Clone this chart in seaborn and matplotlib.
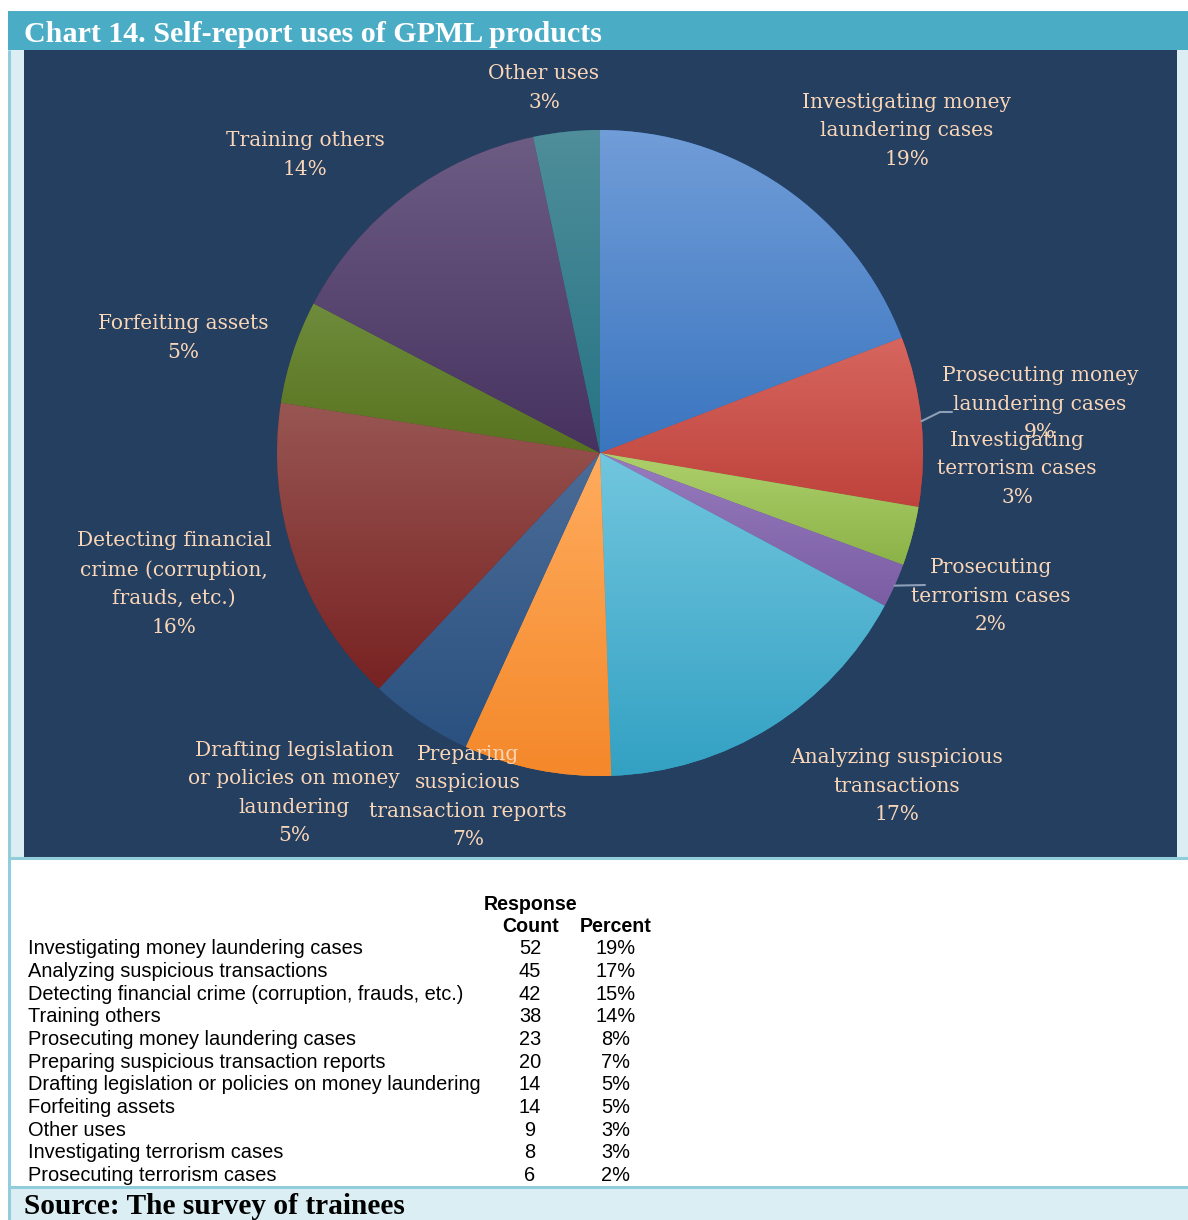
import numpy as np
import matplotlib
matplotlib.use("Agg")
import matplotlib.pyplot as plt
import seaborn as sns
from matplotlib.colors import to_rgb
from matplotlib.patches import Rectangle

# ---------------- data ----------------
pie_categories = [
    "Investigating money laundering cases",
    "Prosecuting money laundering cases",
    "Investigating terrorism cases",
    "Prosecuting terrorism cases",
    "Analyzing suspicious transactions",
    "Preparing suspicious transaction reports",
    "Drafting legislation or policies on money laundering",
    "Detecting financial crime (corruption, frauds, etc.)",
    "Forfeiting assets",
    "Training others",
    "Other uses",
]
pie_counts = [52, 23, 8, 6, 45, 20, 14, 42, 14, 38, 9]
pie_label_text = [
    "Investigating money\nlaundering cases",
    "Prosecuting money\nlaundering cases",
    "Investigating\nterrorism cases",
    "Prosecuting\nterrorism cases",
    "Analyzing suspicious\ntransactions",
    "Preparing\nsuspicious\ntransaction reports",
    "Drafting legislation\nor policies on money\nlaundering",
    "Detecting financial\ncrime (corruption,\nfrauds, etc.)",
    "Forfeiting assets",
    "Training others",
    "Other uses",
]
pie_label_pct = [19, 9, 3, 2, 17, 7, 5, 16, 5, 14, 3]

table_labels = [
    "Investigating money laundering cases",
    "Analyzing suspicious transactions",
    "Detecting financial crime (corruption, frauds, etc.)",
    "Training others",
    "Prosecuting money laundering cases",
    "Preparing suspicious transaction reports",
    "Drafting legislation or policies on money laundering",
    "Forfeiting assets",
    "Other uses",
    "Investigating terrorism cases",
    "Prosecuting terrorism cases",
]
table_counts = [52, 45, 42, 38, 23, 20, 14, 14, 9, 8, 6]
table_pcts = ["19%", "17%", "15%", "14%", "8%", "7%", "5%", "5%", "3%", "3%", "2%"]

title = "Chart 14. Self-report uses of GPML products"
source = "Source: The survey of trainees"

# ---------------- styles ----------------
grad_top = ["#719DD8", "#D6665F", "#AED06C", "#977BBE", "#72C6DE", "#FFAC5E",
            "#4C6C97", "#985652", "#6E8C3C", "#6C5C84", "#4F8E9A"]
grad_bot = ["#3A75BF", "#BE433C", "#8BB247", "#7A5DA3", "#33A1C3", "#F4882A",
            "#2A5180", "#782222", "#58731F", "#47325F", "#267385"]

label_pos = [(907, 131), (1040, 404), (1017, 469), (991, 596), (897, 786),
             (468, 797), (294, 793), (174, 584), (183, 338), (305, 155), (544, 88)]
leaders = {1: [(940, 412), (952, 412)], 3: [(925, 585)]}

W, H = 1188, 1220
CX, CY, R = 600, 453, 323

sns.set_theme(style="white")
plt.rcParams["font.family"] = ["DejaVu Sans"]

fig = plt.figure(figsize=(W / 100, H / 100), dpi=100)
fig.patch.set_facecolor("white")

# background axes in pixel coordinates
bg = fig.add_axes([0, 0, 1, 1], zorder=0)
bg.set_xlim(0, W)
bg.set_ylim(H, 0)
bg.axis("off")

light = "#DAEEF3"
border = "#92CDDC"
navy = "#243F60"
teal = "#4BACC6"

bg.add_patch(Rectangle((8, 50), W - 8, 807, facecolor=light, edgecolor="none"))
bg.add_patch(Rectangle((24, 50), 1153, 807, facecolor=navy, edgecolor="none"))
bg.add_patch(Rectangle((8, 11), W - 8, 39, facecolor=teal, edgecolor="none"))
bg.add_patch(Rectangle((8, 1187), W - 8, 33, facecolor=light, edgecolor="none"))
bg.plot([10, W], [857.5, 857.5], color=border, lw=2.2, solid_capstyle="butt")
bg.plot([10, W], [1186.5, 1186.5], color=border, lw=2.2, solid_capstyle="butt")
bg.plot([9, 9], [50, H], color=border, lw=2.2, solid_capstyle="butt")

# pie axes
pie_ax = fig.add_axes([(CX - R) / W, (H - CY - R) / H, 2 * R / W, 2 * R / H], zorder=1)
pie_ax.patch.set_alpha(0)
wedges, _ = pie_ax.pie(pie_counts, startangle=90, counterclock=False, radius=1,
                       colors=grad_bot, wedgeprops=dict(linewidth=0, edgecolor="none"))
pie_ax.set_xlim(-1, 1)
pie_ax.set_ylim(-1, 1)
pie_ax.axis("off")

# per-wedge vertical gradient
for i, w in enumerate(wedges):
    th = np.radians(np.linspace(w.theta1, w.theta2, 200))
    xs = np.concatenate([[0], w.r * np.cos(th)])
    ys = np.concatenate([[0], w.r * np.sin(th)])
    c1 = np.array(to_rgb(grad_top[i]))
    c2 = np.array(to_rgb(grad_bot[i]))
    t = np.linspace(0, 1, 256)[:, None]
    img = (c2 * (1 - t) + c1 * t)[:, None, :]
    im = pie_ax.imshow(img, extent=[xs.min(), xs.max(), ys.min(), ys.max()],
                       origin="lower", aspect="auto", interpolation="bilinear", zorder=2)
    im.set_clip_path(w)
pie_ax.set_xlim(-1, 1)
pie_ax.set_ylim(-1, 1)

# overlay for text
ov = fig.add_axes([0, 0, 1, 1], zorder=3)
ov.set_xlim(0, W)
ov.set_ylim(H, 0)
ov.axis("off")
ov.patch.set_alpha(0)

peach = "#FAD6B8"
serif = ["DejaVu Serif"]
for i, w in enumerate(wedges):
    x, y = label_pos[i]
    ov.text(x, y, f"{pie_label_text[i]}\n{pie_label_pct[i]}%", ha="center", va="center",
            multialignment="center", color=peach, fontsize=14.5, family=serif,
            linespacing=1.63)
    if i in leaders:
        mid = np.radians((w.theta1 + w.theta2) / 2)
        sx, sy = CX + R * np.cos(mid), CY - R * np.sin(mid)
        pts = [(sx, sy)] + leaders[i]
        ov.plot([p[0] for p in pts], [p[1] for p in pts], color="#8C9FB6", lw=1.5)

# title / source
ov.text(24, 34, title, ha="left", va="center", color="white", fontsize=21.6,
        fontweight="bold", family=["Liberation Serif"])
ov.text(24, 1206, source, ha="left", va="center", color="black", fontsize=21.2,
        fontweight="bold", family=["Liberation Serif"])

# table
sans = ["Liberation Sans"]
fs = 14.4
ov.text(531, 904, "Response", ha="center", va="center", fontsize=fs - 0.3,
        fontweight="bold", family=sans, color="black")
ov.text(531, 926, "Count", ha="center", va="center", fontsize=fs - 0.3,
        fontweight="bold", family=sans, color="black")
ov.text(616, 926, "Percent", ha="center", va="center", fontsize=fs - 0.3,
        fontweight="bold", family=sans, color="black")
for i, (lab, cnt, pct) in enumerate(zip(table_labels, table_counts, table_pcts)):
    y = 949 + i * 22.65
    ov.text(28, y, lab, ha="left", va="center", fontsize=fs, family=sans, color="black")
    ov.text(530, y, str(cnt), ha="center", va="center", fontsize=fs, family=sans, color="black")
    ov.text(616, y, pct, ha="center", va="center", fontsize=fs, family=sans, color="black")

fig.savefig("out.png", dpi=100, facecolor="white")
